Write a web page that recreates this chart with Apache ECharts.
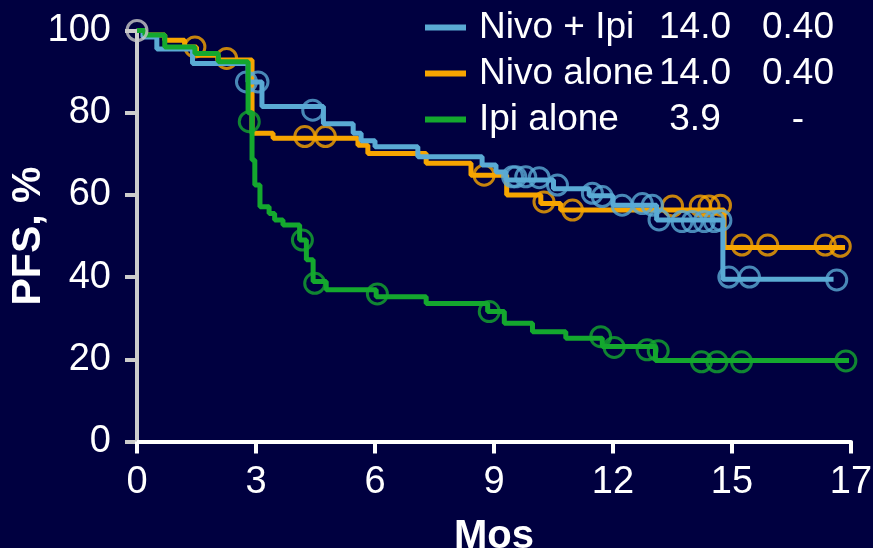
<!DOCTYPE html>
<html>
<head>
<meta charset="utf-8">
<script src="https://cdn.jsdelivr.net/npm/echarts@6/dist/echarts.min.js"></script>
<style>
html,body{margin:0;padding:0;background:#000040;}
#c{width:873px;height:548px;}
</style>
</head>
<body>
<div id="c"></div>
<script>
// ---- data ----
var seriesNames = ['Nivo + Ipi', 'Nivo alone', 'Ipi alone'];
var medianPFS = ['14.0', '14.0', '3.9'];
var hazardRatio = ['0.40', '0.40', '-'];

var xTickValues = [0, 3, 6, 9, 12, 15, 18];
var xTickLabels = ['0', '3', '6', '9', '12', '15', '17'];

// step curves: [month, PFS %]
var nivoIpiCurve = [[0,100],[0.15,98.4],[0.5,95.5],[1.4,92],[2.8,87.5],[3.15,81.5],[4.7,77.3],[5.45,75],[5.65,73.2],[6.0,71.7],[7.08,69.3],[8.7,67.3],[9.05,65.6],[9.3,63.6],[10.5,61.5],[11.4,59.8],[12.0,57.5],[13.1,53.9],[14.77,39.5],[17.56,39.5]];
var nivoCurve = [[0,100],[0.2,98.9],[0.7,97.6],[1.2,96],[1.5,94],[2.05,92.8],[2.9,75],[3.43,73.8],[5.57,72.1],[5.82,70.1],[7.29,67.7],[8.42,64.8],[9.32,60],[10.18,57.9],[10.68,56.3],[14.8,47.2],[17.85,47.2]];
var ipiCurve = [[0,100],[0.2,98.9],[0.7,96],[1.46,94.4],[2.05,92.4],[2.8,80],[2.9,68.5],[2.97,62.4],[3.1,57.1],[3.33,55.5],[3.47,53.9],[3.68,52.7],[4.1,49],[4.27,44.2],[4.44,38.9],[4.77,36.9],[6.03,35.2],[7.29,33.6],[8.84,31.6],[9.26,28.8],[9.97,26.7],[10.81,25.1],[11.73,23.1],[13.07,19.7],[17.95,19.7]];

// censor marks
var nivoIpiCensor = [[2.76,87.5],[3.05,87.5],[4.43,80.6],[9.47,64.4],[9.55,64.4],[9.8,64.4],[10.14,64.2],[10.6,62.4],[11.48,60.4],[11.73,59.6],[12.23,57.5],[12.74,57.9],[12.99,57.5],[13.16,53.9],[13.74,53.5],[14.0,53.5],[14.3,53.5],[14.55,53.5],[14.72,53.8],[14.92,40],[15.44,40],[17.64,39.3]];
var nivoCensor = [[1.46,96],[2.26,93.2],[4.23,74.2],[4.75,74.2],[8.75,64.8],[10.26,58.3],[10.98,56.3],[13.5,57.3],[14.2,57.3],[14.42,57.3],[14.71,57.5],[15.25,47.8],[15.9,47.8],[17.35,47.8],[17.73,47.5]];
var ipiCensor = [[2.83,77.8],[4.17,49],[4.48,38.5],[6.06,35.9],[8.88,31.6],[11.69,25.5],[12.03,22.9],[12.86,22.3],[13.14,22.1],[14.23,19.4],[14.62,19.4],[15.24,19.4],[17.87,19.6]];
var originMark = [[0,100]];

// ---- chart ----
var FONT = '"Liberation Sans", Arial, sans-serif';
var colors = ['#5aaad4', '#f7a500', '#14a82e'];
var chart = echarts.init(document.getElementById('c'));

function lineSeries(name, data, color, z) {
  return {
    name: name, type: 'line', step: 'end', data: data, symbol: 'none',
    lineStyle: {color: color, width: 5}, itemStyle: {color: color},
    z: z, animation: false, clip: false
  };
}
function censorSeries(name, data, color, z) {
  return {
    name: name, type: 'scatter', data: data, symbol: 'circle', symbolSize: 20,
    itemStyle: {color: 'rgba(0,0,0,0)', borderColor: color, borderWidth: 3},
    z: z, animation: false, clip: false, silent: true
  };
}

var option = {
  backgroundColor: '#000040',
  animation: false,
  grid: {left: 137, right: 22, top: 30.5, bottom: 106.5, containLabel: false, outerBoundsMode: 'none'},
  legend: {
    orient: 'vertical', left: 425, top: 7, padding: 0,
    itemWidth: 41, itemHeight: 6, icon: 'rect', itemGap: 5,
    data: seriesNames,
    formatter: function (name) {
      var i = seriesNames.indexOf(name);
      return '{n|' + name + '}{a|' + medianPFS[i] + '}{b|' + hazardRatio[i] + '}';
    },
    textStyle: {
      color: '#ffffff', fontFamily: FONT, fontSize: 37, lineHeight: 41,
      rich: {
        n: {color: '#ffffff', fontFamily: FONT, fontSize: 37, width: 181, padding: [0, 0, 0, 8]},
        a: {color: '#ffffff', fontFamily: FONT, fontSize: 37, width: 70, align: 'center'},
        b: {color: '#ffffff', fontFamily: FONT, fontSize: 37, width: 136, align: 'center'}
      }
    }
  },
  xAxis: {
    type: 'value', min: 0, max: 18, interval: 3,
    name: 'Mos', nameLocation: 'middle', nameGap: 75, nameMoveOverlap: false,
    nameTextStyle: {color: '#ffffff', fontFamily: FONT, fontSize: 40, fontWeight: 'bold'},
    axisLine: {show: true, lineStyle: {color: '#ffffff', width: 4}},
    axisTick: {show: true, length: 12, lineStyle: {color: '#ffffff', width: 4}},
    axisLabel: {
      color: '#ffffff', fontFamily: FONT, fontSize: 38, margin: 22,
      formatter: function (v) { var i = xTickValues.indexOf(v); return i >= 0 ? xTickLabels[i] : ''; }
    },
    splitLine: {show: false}
  },
  yAxis: {
    type: 'value', min: 0, max: 100, interval: 20,
    name: 'PFS, %', nameLocation: 'middle', nameGap: 88, nameRotate: 90, nameMoveOverlap: false,
    nameTextStyle: {color: '#ffffff', fontFamily: FONT, fontSize: 41, fontWeight: 'bold'},
    axisLine: {show: true, lineStyle: {color: '#cccccc', width: 4}},
    axisTick: {show: true, length: 12, lineStyle: {color: '#cccccc', width: 4}},
    axisLabel: {color: '#ffffff', fontFamily: FONT, fontSize: 38, margin: 26},
    splitLine: {show: false}
  },
  series: [
    lineSeries(seriesNames[1], nivoCurve, colors[1], 2),
    censorSeries('Nivo alone censored', nivoCensor, colors[1], 2),
    lineSeries(seriesNames[0], nivoIpiCurve, colors[0], 3),
    censorSeries('Nivo + Ipi censored', nivoIpiCensor, colors[0], 3),
    lineSeries(seriesNames[2], ipiCurve, colors[2], 4),
    censorSeries('Ipi alone censored', ipiCensor, colors[2], 4),
    censorSeries('origin', originMark, '#c8c8c8', 5)
  ]
};
chart.setOption(option);
</script>
</body>
</html>
